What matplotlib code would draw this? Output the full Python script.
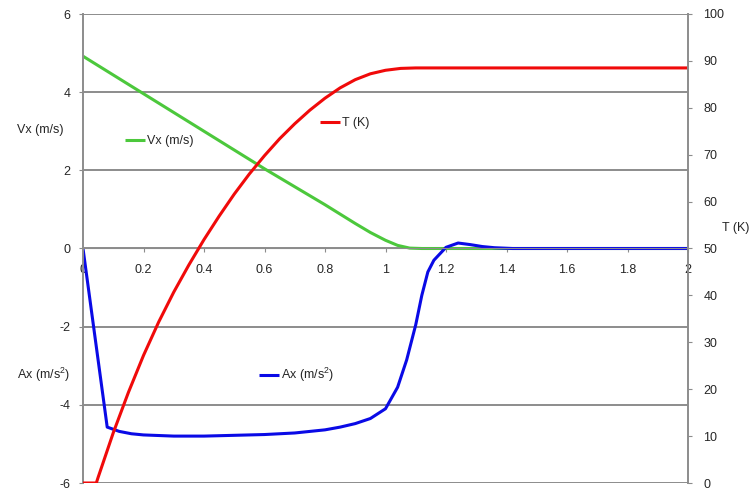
import matplotlib as mpl
mpl.use('Agg')
import matplotlib.pyplot as plt

plt.rcParams['font.family'] = ['Liberation Sans', 'DejaVu Sans']
plt.rcParams['font.size'] = 9
plt.rcParams['mathtext.fontset'] = 'custom'
plt.rcParams['mathtext.rm'] = 'Liberation Sans'
plt.rcParams['mathtext.default'] = 'rm'

# time axis
x_ticks = [0, 0.2, 0.4, 0.6, 0.8, 1, 1.2, 1.4, 1.6, 1.8, 2]
x_labels = ['0', '0.2', '0.4', '0.6', '0.8', '1', '1.2', '1.4', '1.6', '1.8', '2']

# velocity Vx (m/s)
vx_t = [0, 0.1, 0.2, 0.3, 0.4, 0.5, 0.6, 0.7, 0.8, 0.85, 0.9, 0.95, 1.0, 1.04, 1.08, 1.12, 2.0]
vx = [4.92, 4.44, 3.96, 3.48, 3.0, 2.52, 2.04, 1.58, 1.12, 0.88, 0.64, 0.41, 0.21, 0.08, 0.01, 0.0, 0.0]

# acceleration Ax (m/s2)
ax_t = [0, 0.08, 0.12, 0.16, 0.2, 0.3, 0.4, 0.5, 0.6, 0.7, 0.8, 0.85, 0.9, 0.95, 0.98, 1.0,
        1.04, 1.07, 1.1, 1.12, 1.14, 1.16, 1.2, 1.24, 1.28, 1.32, 1.36, 1.42, 2.0]
ax_v = [0, -4.57, -4.68, -4.74, -4.77, -4.8, -4.8, -4.78, -4.76, -4.72, -4.64, -4.57, -4.48, -4.35, -4.2, -4.1,
        -3.55, -2.85, -1.95, -1.2, -0.6, -0.3, 0.03, 0.14, 0.1, 0.05, 0.02, 0.0, 0.0]

# temperature T (K)
temp_t = [0, 0.044, 0.05, 0.1, 0.15, 0.2, 0.25, 0.3, 0.35, 0.4, 0.45, 0.5, 0.55, 0.6,
          0.65, 0.7, 0.75, 0.8, 0.85, 0.9, 0.95, 1.0, 1.05, 1.1, 2.0]
temp = [0, 0, 1.2, 10.7, 19.3, 27.2, 34.3, 40.7, 46.5, 51.9, 56.9, 61.6, 65.9, 69.8,
        73.4, 76.6, 79.5, 82.05, 84.25, 86.0, 87.25, 88.0, 88.4, 88.5, 88.5]

left_ticks = [-6, -4, -2, 0, 2, 4, 6]
right_ticks = [0, 10, 20, 30, 40, 50, 60, 70, 80, 90, 100]

gray = '#8c8c8c'
txt = '#262626'

fig = plt.figure(figsize=(7.55, 4.9), dpi=100)
ax = fig.add_axes([83 / 755, 7 / 490, 605 / 755, 469 / 490])

l_vx, = ax.plot(vx_t, vx, color='#4cc83c', lw=2.2, label='Vx (m/s)', solid_capstyle='butt')
l_ax, = ax.plot(ax_t, ax_v, color='#0a0ae6', lw=2.2, label='Ax (m/s$^{2}$)', solid_capstyle='butt')

ax.set_xlim(0, 2)
ax.set_ylim(-6, 6)
ax.set_xticks(x_ticks)
ax.set_xticklabels(x_labels)
ax.set_yticks(left_ticks)
ax.set_yticklabels([str(v) for v in left_ticks])
ax.set_axisbelow(True)
ax.yaxis.grid(True, color=gray, lw=1.4)

ax.spines['bottom'].set_position(('data', 0))
ax.spines['bottom'].set_color(gray)
ax.spines['left'].set_color(gray)
ax.spines['left'].set_linewidth(1.4)
ax.spines['top'].set_visible(False)
ax.spines['right'].set_visible(False)
ax.tick_params(axis='x', direction='out', length=3, color=gray, pad=8, labelcolor=txt)
ax.tick_params(axis='y', direction='out', length=3, color=gray, pad=6, labelcolor=txt)

ax2 = ax.twinx()
l_t, = ax2.plot(temp_t, temp, color='#f00a0a', lw=2.2, label='T (K)', solid_capstyle='butt')
ax2.set_ylim(0, 100)
ax2.set_yticks(right_ticks)
ax2.set_yticklabels([str(v) for v in right_ticks])
for s in ['top', 'bottom', 'left']:
    ax2.spines[s].set_visible(False)
ax2.spines['right'].set_color(gray)
ax2.spines['right'].set_linewidth(1.4)
ax2.tick_params(axis='y', direction='out', length=3, color=gray, pad=8, labelcolor=txt)

# axis titles
fig.text(40 / 755, 1 - 130 / 490, 'Vx (m/s)', ha='center', va='center', color=txt)
fig.text(44 / 755, 1 - 375 / 490, 'Ax (m/s$^{2}$)', ha='center', va='center', color=txt)
fig.text(736 / 755, 1 - 228 / 490, 'T (K)', ha='center', va='center', color=txt)

# series labels next to the curves
for line, pos in [(l_vx, (125, 141)), (l_t, (320, 123)), (l_ax, (259, 375))]:
    fig.legend(handles=[line], loc='center left',
               bbox_to_anchor=(pos[0] / 755, 1 - pos[1] / 490),
               bbox_transform=fig.transFigure, frameon=False,
               handlelength=1.6, handletextpad=0.15, borderpad=0, borderaxespad=0,
               labelcolor=txt)

fig.savefig('out.png', dpi=100)
